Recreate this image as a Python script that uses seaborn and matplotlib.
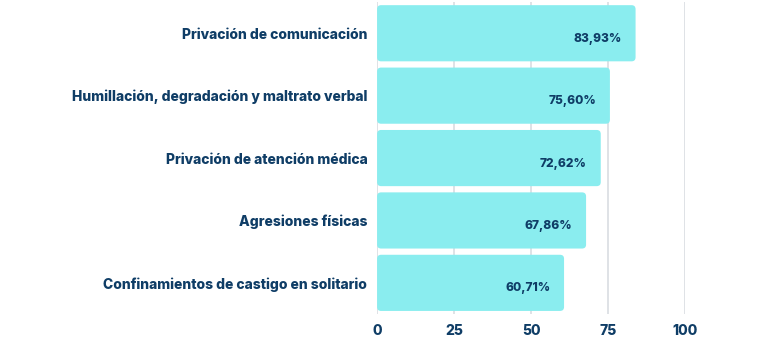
import matplotlib
matplotlib.use("Agg")
import matplotlib.pyplot as plt
from matplotlib.patches import FancyBboxPatch
import seaborn as sns
import pandas as pd

categories = [
    "Privación de comunicación",
    "Humillación, degradación y maltrato verbal",
    "Privación de atención médica",
    "Agresiones físicas",
    "Confinamientos de castigo en solitario",
]
values = [83.93, 75.60, 72.62, 67.86, 60.71]
value_labels = ["83,93%", "75,60%", "72,62%", "67,86%", "60,71%"]
x_ticks = [0, 25, 50, 75, 100]

BAR = "#8aedef"
NAVY = "#0f3d66"
GRID = "#d9dde2"

sns.set_theme(style="white")
plt.rcParams["font.family"] = ["Inter", "DejaVu Sans"]

df = pd.DataFrame({"cat": categories, "val": values})

fig = plt.figure(figsize=(7.68, 3.41), dpi=100)
ax = fig.add_axes([0.491, 0.079, 0.401, 0.915])

sns.barplot(data=df, x="val", y="cat", color=BAR, width=0.9, ax=ax,
            saturation=1, zorder=2)

# swap the plain rectangles for rounded ones of the same extent
px_x = 0.401 * 768 / 100.0
px_y = 0.915 * 341 / 5.0
for p in list(ax.patches):
    x0, y0 = p.get_x(), p.get_y()
    w, h = p.get_width(), p.get_height()
    r = FancyBboxPatch((x0, y0), w, h,
                       boxstyle="round,pad=0,rounding_size=1.3",
                       mutation_aspect=px_x / px_y,
                       facecolor=BAR, edgecolor="none", zorder=2)
    p.set_visible(False)
    ax.add_patch(r)

for i, (v, lab) in enumerate(zip(values, value_labels)):
    ax.text(v - 4.5, i + 0.09, lab, ha="right", va="center",
            fontsize=8.6, fontweight="heavy", color=NAVY, zorder=3)

ax.set_xlim(0, 100)
ax.set_ylim(4.5, -0.5)
ax.set_xticks(x_ticks)
ax.set_xticklabels([str(t) for t in x_ticks])
ax.xaxis.grid(True, color=GRID, linewidth=1.2, zorder=0)
ax.set_axisbelow(True)
ax.set_xlabel("")
ax.set_ylabel("")
for s in ax.spines.values():
    s.set_visible(False)
ax.tick_params(axis="both", length=0)
ax.tick_params(axis="x", pad=7)
ax.tick_params(axis="y", pad=7)
for t in ax.get_xticklabels():
    t.set_fontsize(10)
    t.set_fontweight("heavy")
    t.set_color(NAVY)
for t in ax.get_yticklabels():
    t.set_fontsize(10)
    t.set_fontweight("heavy")
    t.set_color(NAVY)

fig.savefig("out.png", dpi=100, facecolor="white")
